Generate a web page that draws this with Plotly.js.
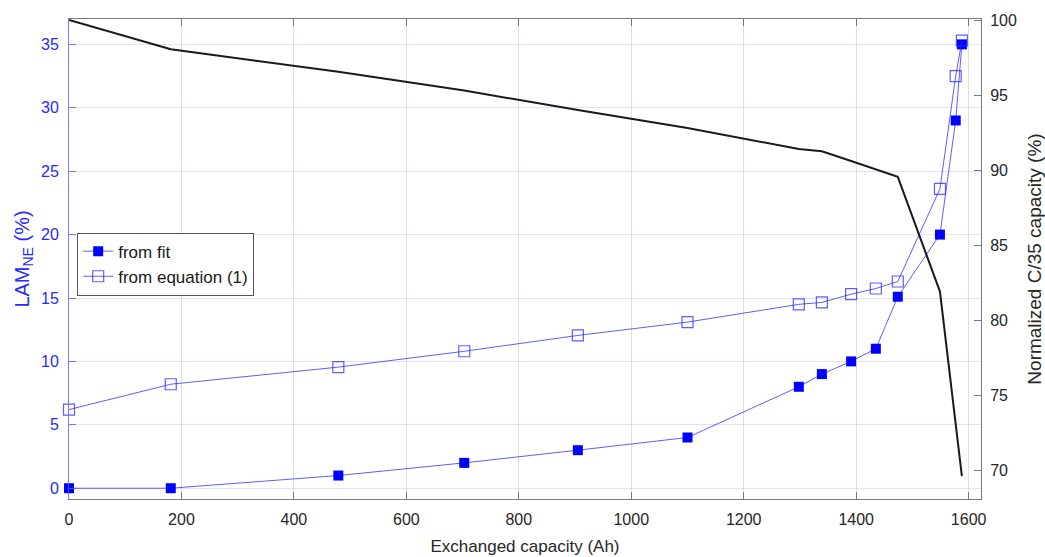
<!DOCTYPE html>
<html>
<head>
<meta charset="utf-8">
<script src="https://cdn.plot.ly/plotly-3.0.1.min.js"></script>
<style>
  html, body { margin: 0; padding: 0; background: #fff; }
  #chart { width: 1045px; height: 557px; }
</style>
</head>
<body>
<div id="chart"></div>
<script>
// Exchanged capacity (Ah) at each check-up
const exchanged = [0, 181, 479, 703, 905, 1100, 1298, 1339, 1391, 1435, 1474, 1549, 1577, 1588];
// Loss of active material on the negative electrode (%)
const lamFromFit = [0, 0, 1, 2, 3, 4, 8, 9, 10, 11, 15.1, 20, 29, 35];
const lamFromEquation = [6.2, 8.2, 9.55, 10.8, 12.05, 13.1, 14.5, 14.65, 15.3, 15.75, 16.3, 23.6, 32.5, 35.3];
// Normalized C/35 capacity (%)
const capacityX = [0, 181, 479, 703, 905, 1100, 1298, 1339, 1391, 1435, 1474, 1549, 1588];
const capacity = [100, 98.05, 96.55, 95.3, 94.0, 92.8, 91.4, 91.25, 90.6, 90.05, 89.55, 81.9, 69.6];

const xTicks = [0, 200, 400, 600, 800, 1000, 1200, 1400, 1600];
const lamTicks = [0, 5, 10, 15, 20, 25, 30, 35];
const capTicks = [70, 75, 80, 85, 90, 95, 100];

const blue = 'rgb(0,0,255)';
const lightBlue = 'rgba(40,40,255,0.75)';
const font = 'Liberation Sans, Arial, sans-serif';

const traces = [
  {
    x: capacityX, y: capacity, yaxis: 'y2',
    type: 'scatter', mode: 'lines',
    line: { color: '#1a1a1a', width: 2 },
    showlegend: false, cliponaxis: false, hoverinfo: 'x+y'
  },
  {
    x: exchanged, y: lamFromFit, name: 'from fit',
    type: 'scatter', mode: 'lines+markers',
    line: { color: lightBlue, width: 1 },
    marker: { symbol: 'square', size: 10, color: blue, line: { width: 0 } },
    cliponaxis: false
  },
  {
    x: exchanged, y: lamFromEquation, name: 'from equation (1)',
    type: 'scatter', mode: 'lines+markers',
    line: { color: lightBlue, width: 1 },
    marker: { symbol: 'square-open', size: 11, color: lightBlue, line: { width: 1.2 } },
    cliponaxis: false
  }
];

const layout = {
  width: 1045, height: 557,
  margin: { l: 69, r: 64, t: 19, b: 58 },
  paper_bgcolor: '#fff', plot_bgcolor: '#fff',
  font: { family: font, size: 16, color: '#262626' },
  showlegend: true,
  legend: {
    x: 0.009, y: 0.555, xanchor: 'left', yanchor: 'top',
    bgcolor: '#fff', bordercolor: '#555', borderwidth: 1,
    font: { family: font, size: 17, color: '#1a1a1a' },
    tracegroupgap: 0, itemwidth: 30
  },
  xaxis: {
    range: [0, 1622], tickvals: xTicks, ticktext: xTicks.map(String),
    showgrid: true, gridcolor: 'rgba(200,200,215,0.6)', gridwidth: 1,
    zeroline: false, showline: true, linecolor: '#7a7a7a', linewidth: 1,
    mirror: 'ticks', ticks: 'inside', ticklen: 7, tickcolor: '#7a7a7a',
    ticklabelstandoff: 6,
    tickfont: { family: font, size: 16, color: '#262626' },
    title: { text: 'Exchanged capacity (Ah)', font: { family: font, size: 17, color: '#262626' }, standoff: 12 }
  },
  yaxis: {
    range: [-0.85, 37.0], tickvals: lamTicks, ticktext: lamTicks.map(String),
    showgrid: true, gridcolor: 'rgba(200,200,255,0.55)', gridwidth: 1,
    zeroline: false, showline: true, linecolor: 'rgba(90,90,255,0.8)', linewidth: 1,
    ticks: 'inside', ticklen: 7, tickcolor: 'rgba(90,90,255,0.8)',
    ticklabelstandoff: 6,
    tickfont: { family: font, size: 16, color: 'rgb(40,40,255)' },
    title: { text: 'LAM<sub>NE</sub> (%)', font: { family: font, size: 20, color: 'rgb(40,40,255)' }, standoff: 6 }
  },
  yaxis2: {
    overlaying: 'y', side: 'right',
    range: [68.07, 100.07], tickvals: capTicks, ticktext: capTicks.map(String),
    showgrid: false, zeroline: false,
    showline: true, linecolor: '#7a7a7a', linewidth: 1,
    ticks: 'inside', ticklen: 7, tickcolor: '#7a7a7a',
    ticklabelstandoff: 5,
    tickfont: { family: font, size: 16, color: '#262626' },
    title: { text: 'Normalized C/35 capacity (%)', font: { family: font, size: 19, color: '#262626' }, standoff: 12 }
  }
};

Plotly.newPlot('chart', traces, layout, { displayModeBar: false, staticPlot: true });
</script>
</body>
</html>
